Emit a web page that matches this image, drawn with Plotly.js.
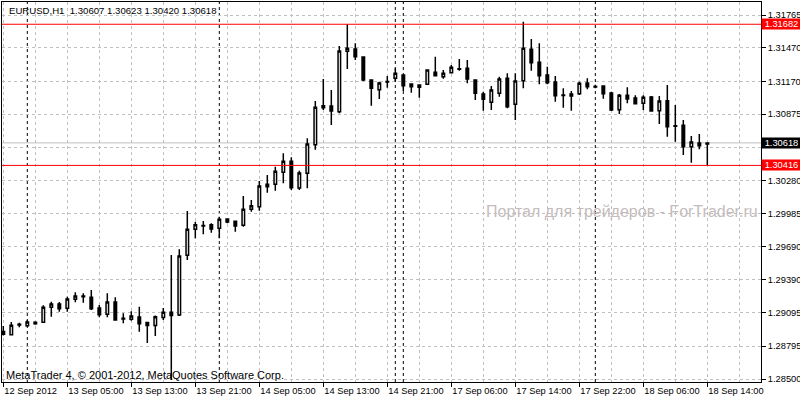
<!DOCTYPE html>
<html><head><meta charset="utf-8">
<script src="https://cdn.plot.ly/plotly-3.0.1.min.js"></script>
<style>html,body{margin:0;padding:0;background:#fff;}#chart{width:800px;height:400px;}</style>
</head><body><div id="chart"></div>
<script>
const times = [
"12 Sep 21:00","12 Sep 22:00","12 Sep 23:00",
"13 Sep 00:00","13 Sep 01:00","13 Sep 02:00","13 Sep 03:00","13 Sep 04:00","13 Sep 05:00","13 Sep 06:00","13 Sep 07:00",
"13 Sep 08:00","13 Sep 09:00","13 Sep 10:00","13 Sep 11:00","13 Sep 12:00","13 Sep 13:00","13 Sep 14:00","13 Sep 15:00",
"13 Sep 16:00","13 Sep 17:00","13 Sep 18:00","13 Sep 19:00","13 Sep 20:00","13 Sep 21:00","13 Sep 22:00","13 Sep 23:00",
"14 Sep 00:00","14 Sep 01:00","14 Sep 02:00","14 Sep 03:00","14 Sep 04:00","14 Sep 05:00","14 Sep 06:00","14 Sep 07:00",
"14 Sep 08:00","14 Sep 09:00","14 Sep 10:00","14 Sep 11:00","14 Sep 12:00","14 Sep 13:00","14 Sep 14:00","14 Sep 15:00",
"14 Sep 16:00","14 Sep 17:00","14 Sep 18:00","14 Sep 19:00","14 Sep 20:00","14 Sep 21:00",
"16 Sep 23:00",
"17 Sep 00:00","17 Sep 01:00","17 Sep 02:00","17 Sep 03:00","17 Sep 04:00","17 Sep 05:00","17 Sep 06:00","17 Sep 07:00",
"17 Sep 08:00","17 Sep 09:00","17 Sep 10:00","17 Sep 11:00","17 Sep 12:00","17 Sep 13:00","17 Sep 14:00","17 Sep 15:00",
"17 Sep 16:00","17 Sep 17:00","17 Sep 18:00","17 Sep 19:00","17 Sep 20:00","17 Sep 21:00","17 Sep 22:00","17 Sep 23:00",
"18 Sep 00:00","18 Sep 01:00","18 Sep 02:00","18 Sep 03:00","18 Sep 04:00","18 Sep 05:00","18 Sep 06:00","18 Sep 07:00",
"18 Sep 08:00","18 Sep 09:00","18 Sep 10:00","18 Sep 11:00","18 Sep 12:00","18 Sep 13:00","18 Sep 14:00"];

const openP = [1.28926,1.28897,1.28991,1.28978,1.29009,1.29009,1.29143,1.29173,1.29134,1.29215,
1.29245,1.29233,1.29137,1.29080,1.29191,1.29044,1.29036,1.29056,1.29007,1.28980,
1.29052,1.29098,1.29074,1.29610,1.29843,1.29877,1.29884,1.29852,1.29935,1.29915,
1.29879,1.30022,1.30046,1.30225,1.30247,1.30354,1.30453,1.30213,1.30345,1.30602,
1.30952,1.30949,1.30898,1.31439,1.31460,1.31388,1.31182,1.31095,1.31169,1.31197,
1.31227,1.31146,1.31117,1.31144,1.31251,1.31212,1.31248,1.31283,1.31287,1.31182,
1.31056,1.30982,1.31063,1.31197,1.30964,1.31176,1.31457,1.31341,1.31227,1.31164,
1.31047,1.31056,1.31059,1.31155,1.31124,1.31128,1.31065,1.30916,1.31045,1.31021,
1.30973,1.31030,1.30907,1.30996,1.30771,1.30776,1.30584,1.30617,1.30607];

const highP = [1.28975,1.29011,1.29005,1.29029,1.29018,1.29161,1.29193,1.29191,1.29238,1.29278,
1.29269,1.29298,1.29164,1.29269,1.29233,1.29089,1.29107,1.29149,1.29011,1.29070,
1.29137,1.29612,1.29663,1.30007,1.29911,1.29917,1.29897,1.29956,1.29941,1.29917,
1.30142,1.30106,1.30276,1.30330,1.30404,1.30525,1.30489,1.30369,1.30659,1.30994,
1.31191,1.31092,1.31487,1.31682,1.31511,1.31395,1.31185,1.31167,1.31218,1.31287,
1.31233,1.31148,1.31139,1.31274,1.31391,1.31272,1.31317,1.31370,1.31361,1.31188,
1.31077,1.31128,1.31212,1.31242,1.31242,1.31705,1.31550,1.31511,1.31301,1.31218,
1.31108,1.31083,1.31167,1.31197,1.31139,1.31130,1.31077,1.31056,1.31117,1.31045,
1.31045,1.31039,1.31039,1.31137,1.30958,1.30823,1.30680,1.30698,1.30623];

const lowP = [1.28890,1.28892,1.28964,1.28969,1.28987,1.29007,1.29059,1.29104,1.29104,1.29188,
1.29184,1.29119,1.29053,1.29053,1.29023,1.29000,1.29023,1.28924,1.28823,1.28886,
1.29029,1.28491,1.29065,1.29567,1.29762,1.29798,1.29812,1.29762,1.29897,1.29821,
1.29866,1.30001,1.30010,1.30171,1.30189,1.30255,1.30195,1.30195,1.30211,1.30557,
1.30913,1.30778,1.30883,1.31281,1.31361,1.31173,1.30952,1.31012,1.31113,1.31167,
1.31083,1.31068,1.31023,1.31137,1.31219,1.31194,1.31242,1.31266,1.31152,1.31003,
1.30907,1.30913,1.31032,1.30928,1.30823,1.31108,1.31266,1.31144,1.31144,1.30987,
1.30934,1.30907,1.31047,1.31099,1.31108,1.31014,1.30904,1.30877,1.30973,1.30967,
1.30913,1.30898,1.30787,1.30673,1.30629,1.30509,1.30440,1.30560,1.30420];

const closeP = [1.28901,1.28982,1.28984,1.29011,1.28996,1.29143,1.29173,1.29131,1.29218,1.29245,
1.29238,1.29131,1.29077,1.29191,1.29029,1.29038,1.29065,1.28996,1.28980,1.29059,
1.29098,1.29070,1.29603,1.29843,1.29884,1.29872,1.29846,1.29933,1.29908,1.29872,
1.30022,1.30055,1.30231,1.30247,1.30363,1.30453,1.30216,1.30348,1.30608,1.30937,
1.30934,1.30904,1.31442,1.31466,1.31391,1.31182,1.31108,1.31155,1.31164,1.31242,
1.31131,1.31122,1.31137,1.31272,1.31221,1.31242,1.31296,1.31279,1.31191,1.31063,
1.31009,1.31092,1.31191,1.30943,1.31173,1.31466,1.31337,1.31221,1.31158,1.31041,
1.31043,1.31039,1.31152,1.31122,1.31120,1.31059,1.30913,1.31045,1.31012,1.30969,
1.31027,1.30904,1.30994,1.30763,1.30768,1.30584,1.30626,1.30593,1.30618];

const tickTimes = ["12 Sep 21:00","13 Sep 05:00","13 Sep 13:00","13 Sep 21:00","14 Sep 05:00","14 Sep 13:00",
"14 Sep 21:00","17 Sep 06:00","17 Sep 14:00","17 Sep 22:00","18 Sep 06:00","18 Sep 14:00"];
const tickText = ["12 Sep 2012","13 Sep 05:00","13 Sep 13:00","13 Sep 21:00","14 Sep 05:00","14 Sep 13:00",
"14 Sep 21:00","17 Sep 06:00","17 Sep 14:00","17 Sep 22:00","18 Sep 06:00","18 Sep 14:00"];
const yTickVals = [1.28500,1.28795,1.29095,1.29390,1.29690,1.29985,1.30280,1.30580,1.30875,1.31170,1.31470,1.31765];
const hLevels = [1.31682, 1.30416];
const bidLevel = 1.30618;
const headerText = "EURUSD,H1  1.30607 1.30623 1.30420 1.30618";
const copyrightText = "MetaTrader 4, \u00a9 2001-2012, MetaQuotes Software Corp.";
const watermarkText = "Портал для трейдеров - ForTrader.ru";

const FONT = "'Liberation Sans', Arial, sans-serif";
const xIdx = times.map((t, i) => i);
const tickIdx = tickTimes.map(t => times.indexOf(t));
// the tick label hidden behind the bid price box is left blank
const yTickText = yTickVals.map(v => Math.abs(v - bidLevel) < 0.0005 ? '' : v.toFixed(5));

// day separators: first bar of each new day
const seps = [];
for (let i = 1; i < times.length; i++) {
  if (times[i].slice(0, 6) !== times[i - 1].slice(0, 6)) seps.push(i);
}

const shapes = [];
seps.forEach(i => shapes.push({type:'line', xref:'x', yref:'paper', x0:i, x1:i, y0:0, y1:1,
  line:{color:'#000', width:1, dash:'3px,3px'}, layer:'below'}));
shapes.push({type:'line', xref:'paper', yref:'y', x0:0, x1:1, y0:bidLevel, y1:bidLevel,
  line:{color:'#c0c0c0', width:1}, layer:'below'});
hLevels.forEach(v => shapes.push({type:'line', xref:'paper', yref:'y', x0:0, x1:1, y0:v, y1:v,
  line:{color:'#ff0000', width:1}, layer:'above'}));

const annotations = [];
annotations.push({xref:'paper', yref:'paper', x:(484 - 2) / 759, y:(382 - 212) / 380, xanchor:'left', yanchor:'middle',
  text:watermarkText, showarrow:false, font:{family:FONT, size:16, color:'#c4bcbc'}});
hLevels.forEach(v => annotations.push({xref:'paper', yref:'y', x:1, y:v, xanchor:'left', yanchor:'middle',
  text:v.toFixed(5), showarrow:false, bgcolor:'#ff0000', font:{family:FONT, size:9.3, color:'#fff'},
  width:39, height:10, borderpad:0, align:'center'}));
annotations.push({xref:'paper', yref:'y', x:1, y:bidLevel, xanchor:'left', yanchor:'middle',
  text:bidLevel.toFixed(5), showarrow:false, bgcolor:'#000', font:{family:FONT, size:9.3, color:'#fff'},
  width:39, height:10, borderpad:0, align:'center'});
annotations.push({xref:'paper', yref:'paper', x:0.0066, y:1 - 8.5/380, xanchor:'left', yanchor:'middle',
  text:headerText.replace(/ /g, '&nbsp;'), showarrow:false, font:{family:FONT, size:9.6, color:'#000'}});
annotations.push({xref:'paper', yref:'paper', x:0.003, y:7/380, xanchor:'left', yanchor:'middle',
  text:copyrightText, showarrow:false, font:{family:FONT, size:11, color:'#000'}});

const trace = {
  type:'candlestick', x:xIdx, open:openP, high:highP, low:lowP, close:closeP,
  increasing:{line:{color:'#000', width:1.5}, fillcolor:'#fff'},
  decreasing:{line:{color:'#000', width:1.5}, fillcolor:'#000'},
  whiskerwidth:0, hoverinfo:'skip', showlegend:false
};

const layout = {
  width:800, height:400,
  margin:{l:2, r:39, t:2, b:18, pad:0},
  paper_bgcolor:'#fff', plot_bgcolor:'#fff',
  font:{family:FONT, size:9.3, color:'#000'},
  boxgap:0.55,
  showlegend:false,
  xaxis:{
    range:[-0.1625, 94.71], rangeslider:{visible:false},
    tickmode:'array', tickvals:tickIdx, ticktext:tickText, tickangle:0,
    ticks:'outside', ticklen:4, tickcolor:'#000', tickwidth:1,
    ticklabelposition:'outside right',
    showline:true, linecolor:'#000', linewidth:1, mirror:true,
    showgrid:true, gridcolor:'#c0c0c0', griddash:'3px,3px', gridwidth:1,
    minor:{tickmode:'linear', tick0:0, dtick:4, showgrid:true, gridcolor:'#c0c0c0', griddash:'3px,3px', ticks:''},
    zeroline:false, fixedrange:true,
    tickfont:{family:FONT, size:9.3, color:'#000'}
  },
  yaxis:{
    side:'right', range:[1.284731, 1.318817],
    tickmode:'array', tickvals:yTickVals, ticktext:yTickText,
    ticks:'outside', ticklen:4, tickcolor:'#000', tickwidth:1,
    showline:true, linecolor:'#000', linewidth:1, mirror:true,
    showgrid:true, gridcolor:'#c0c0c0', griddash:'3px,3px', gridwidth:1,
    zeroline:false, fixedrange:true,
    tickfont:{family:FONT, size:9.3, color:'#000'}
  },
  shapes:shapes,
  annotations:annotations
};

Plotly.newPlot('chart', [trace], layout, {displayModeBar:false, staticPlot:true});
</script>
</body></html>
